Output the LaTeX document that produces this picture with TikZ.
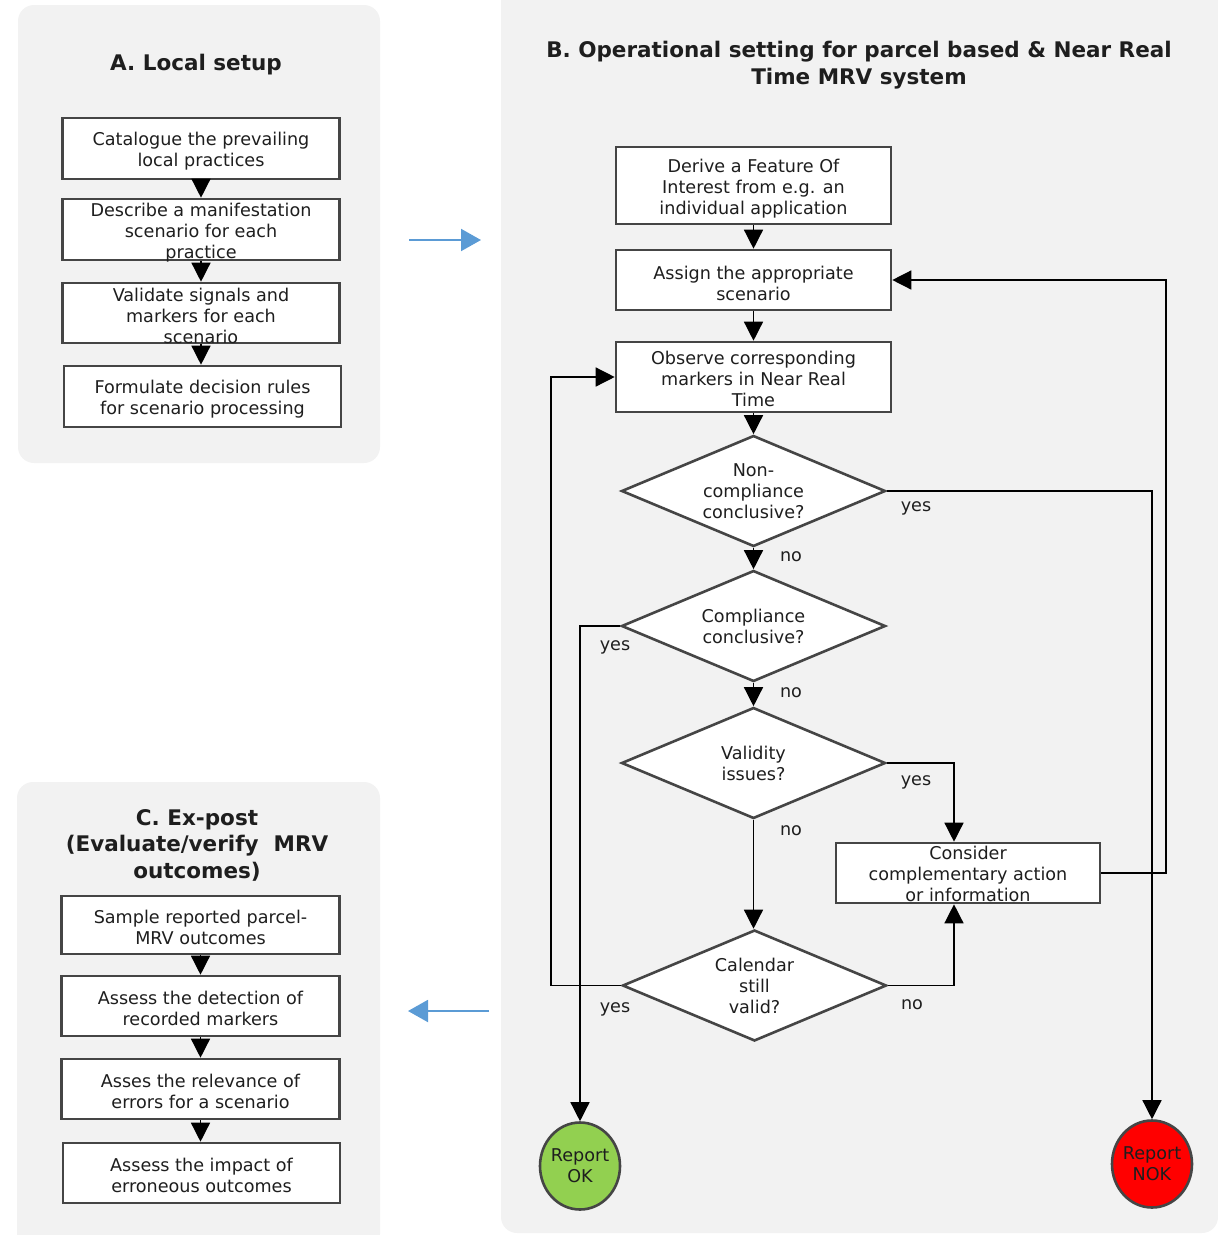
\documentclass[tikz,border=0pt]{standalone}
\usepackage{fontspec}
\setmainfont{DejaVu Sans}
\usetikzlibrary{shapes.geometric,arrows.meta}
\definecolor{panelgray}{HTML}{F2F2F2}
\definecolor{bordergray}{HTML}{454545}
\definecolor{txt}{HTML}{1E1E1E}
\definecolor{bluearrow}{HTML}{5B9BD5}
\definecolor{okgreen}{HTML}{92D050}
\definecolor{nokred}{HTML}{FF0000}
\tikzset{
  panel/.style={fill=panelgray, draw=none, rounded corners=16pt},
  bodyfont/.style={font=\fontsize{17.6}{21}\selectfont, text=txt},
  stepbox/.style={draw=bordergray, line width=2.6pt, fill=white, inner sep=0pt},
  steptext/.style={inner sep=0pt, align=center, bodyfont},
  decision/.style={diamond, draw=bordergray, line width=2.6pt, fill=white, inner sep=0pt, aspect=2.4, align=center, bodyfont, minimum width=264pt, minimum height=111pt},
  terminal/.style={ellipse, draw=bordergray, line width=2.6pt, inner sep=-2pt, align=center, bodyfont, minimum width=80pt, minimum height=87pt},
  titletext/.style={align=center, text=txt, font=\fontsize{21.5}{26.5}\selectfont\bfseries},
  lbl/.style={bodyfont, inner sep=0pt},
  conn/.style={line width=1.4pt, black},
  arr/.style={conn, -{Triangle[length=19pt,width=19pt]}},
  bluearr/.style={bluearrow, line width=2pt, -{Triangle[length=20pt,width=22pt]}}
}
\begin{document}
\begin{tikzpicture}[x=1pt,y=-1pt]
\useasboundingbox (0,0) rectangle (1218,1235);
% panels
\fill[panel] (18,5) rectangle (380,463);
\fill[panel] (17,782) rectangle (380,1250);
\fill[panel] (501,-20) rectangle (1218,1233);

% ---------- Panel A ----------
\node[titletext] (tA) at (196,65) {A. Local setup};
\node[stepbox, minimum width=277pt, minimum height=61pt] (A1) at (201,148.5) {};
\node[stepbox, minimum width=277pt, minimum height=61pt] (A2) at (201,229.5) {};
\node[stepbox, minimum width=277pt, minimum height=60pt] (A3) at (201,313) {};
\node[stepbox, minimum width=277pt, minimum height=61pt] (A4) at (202.5,396.5) {};
\node[steptext] (A1t) at ([yshift=-3pt]A1.center) {Catalogue the prevailing\\local practices};
\node[steptext] (A2t) at ([yshift=-3pt]A2.center) {Describe a manifestation\\scenario for each\\practice};
\node[steptext] (A3t) at ([yshift=-3pt]A3.center) {Validate signals and\\markers for each\\scenario};
\node[steptext] (A4t) at ([yshift=-3pt]A4.center) {Formulate decision rules\\for scenario processing};
\draw[arr] (A1.south) -- (A2.north);
\draw[arr] (A2.south) -- (A3.north);
\draw[arr] (A3.south) -- (A3.south |- A4.north);

% ---------- Panel C ----------
\node[titletext] (tC) at (197,845) {C. Ex-post\\(Evaluate/verify\ \ MRV\\outcomes)};
\node[stepbox, minimum width=278pt, minimum height=58pt] (C1) at (200.5,925) {};
\node[stepbox, minimum width=278pt, minimum height=60pt] (C2) at (200.5,1006) {};
\node[stepbox, minimum width=278pt, minimum height=60pt] (C3) at (200.5,1089) {};
\node[stepbox, minimum width=277pt, minimum height=60pt] (C4) at (201.5,1173) {};
\node[steptext] (C1t) at ([yshift=-2pt]C1.center) {Sample reported parcel-\\MRV outcomes};
\node[steptext] (C2t) at ([yshift=-2pt]C2.center) {Assess the detection of\\recorded markers};
\node[steptext] (C3t) at ([yshift=-2pt]C3.center) {Asses the relevance of\\errors for a scenario};
\node[steptext] (C4t) at ([yshift=-2pt]C4.center) {Assess the impact of\\erroneous outcomes};
\draw[arr] (C1.south) -- (C2.north);
\draw[arr] (C2.south) -- (C3.north);
\draw[arr] (C3.south) -- (C3.south |- C4.north);

% ---------- blue arrows between panels ----------
\coordinate (ba1) at (409,240);
\coordinate (ba2) at (481,240);
\coordinate (bb1) at (489,1011);
\coordinate (bb2) at (408,1011);
\draw[bluearr] (ba1) -- (ba2);
\draw[bluearr] (bb1) -- (bb2);

% ---------- Panel B ----------
\node[titletext, font=\fontsize{21.5}{27}\selectfont\bfseries] (tB) at (859,65) {B. Operational setting for parcel based \& Near Real\\Time MRV system};
\node[stepbox, minimum width=275pt, minimum height=77pt] (B1) at (753.5,185.5) {};
\node[stepbox, minimum width=275pt, minimum height=60pt] (B2) at (753.5,280) {};
\node[stepbox, minimum width=275pt, minimum height=70pt] (B3) at (753.5,377) {};
\node[steptext] (B1t) at ([yshift=-3pt]B1.center) {Derive a Feature Of\\Interest from e.g. an\\individual application};
\node[steptext] (B2t) at ([yshift=-3pt]B2.center) {Assign the appropriate\\scenario};
\node[steptext] (B3t) at ([yshift=-2pt]B3.center) {Observe corresponding\\markers in Near Real\\Time};
\node[decision] (D1) at (753.5,491) {Non-\\compliance\\conclusive?};
\node[decision] (D2) at (753.5,626) {Compliance\\conclusive?};
\node[decision] (D3) at (753.5,763) {Validity\\issues?};
\node[decision] (D4) at (754.5,985.5) {Calendar\\still\\valid?};
\node[stepbox, minimum width=264pt, minimum height=60pt] (B4) at (968,873) {};
\node[steptext] (B4t) at ([yshift=-1pt]B4.center) {Consider\\complementary action\\or information};
\node[terminal, fill=okgreen] (OK) at (580,1166) {Report\\OK};
\node[terminal, fill=nokred] (NOK) at (1152,1164) {Report\\NOK};

\coordinate (L1) at (551,985.5);
\coordinate (R1) at (1166,873);

\draw[arr] (B1.south) -- (B2.north);
\draw[arr] (B2.south) -- (B3.north);
\draw[arr] (B3.south) -- (D1.north);
\draw[arr] (D1.south) -- (D2.north);
\draw[arr] (D2.south) -- (D3.north);
\draw[arr] (D3.south) -- (D3.south |- D4.north);
\draw[arr] (D1.east) -| (NOK.north);
\draw[arr] (D2.west) -| (OK.north);
\draw[arr] (D3.east) -| ([xshift=-14pt]B4.north);
\draw[arr] (D4.east) -| ([xshift=-14pt]B4.south);
\draw[arr] (D4.west) -- (L1) |- (B3.west);
\draw[arr] (B4.east) -- (R1) |- (B2.east);

% labels
\node[lbl] (n1) at (791,557) {no};
\node[lbl] (n2) at (791,693) {no};
\node[lbl] (n3) at (791,831) {no};
\node[lbl] (n4) at (912,1005) {no};
\node[lbl] (y1) at (916,508) {yes};
\node[lbl] (y2) at (615,647) {yes};
\node[lbl] (y3) at (916,782) {yes};
\node[lbl] (y4) at (615,1009) {yes};
\end{tikzpicture}
\end{document}
